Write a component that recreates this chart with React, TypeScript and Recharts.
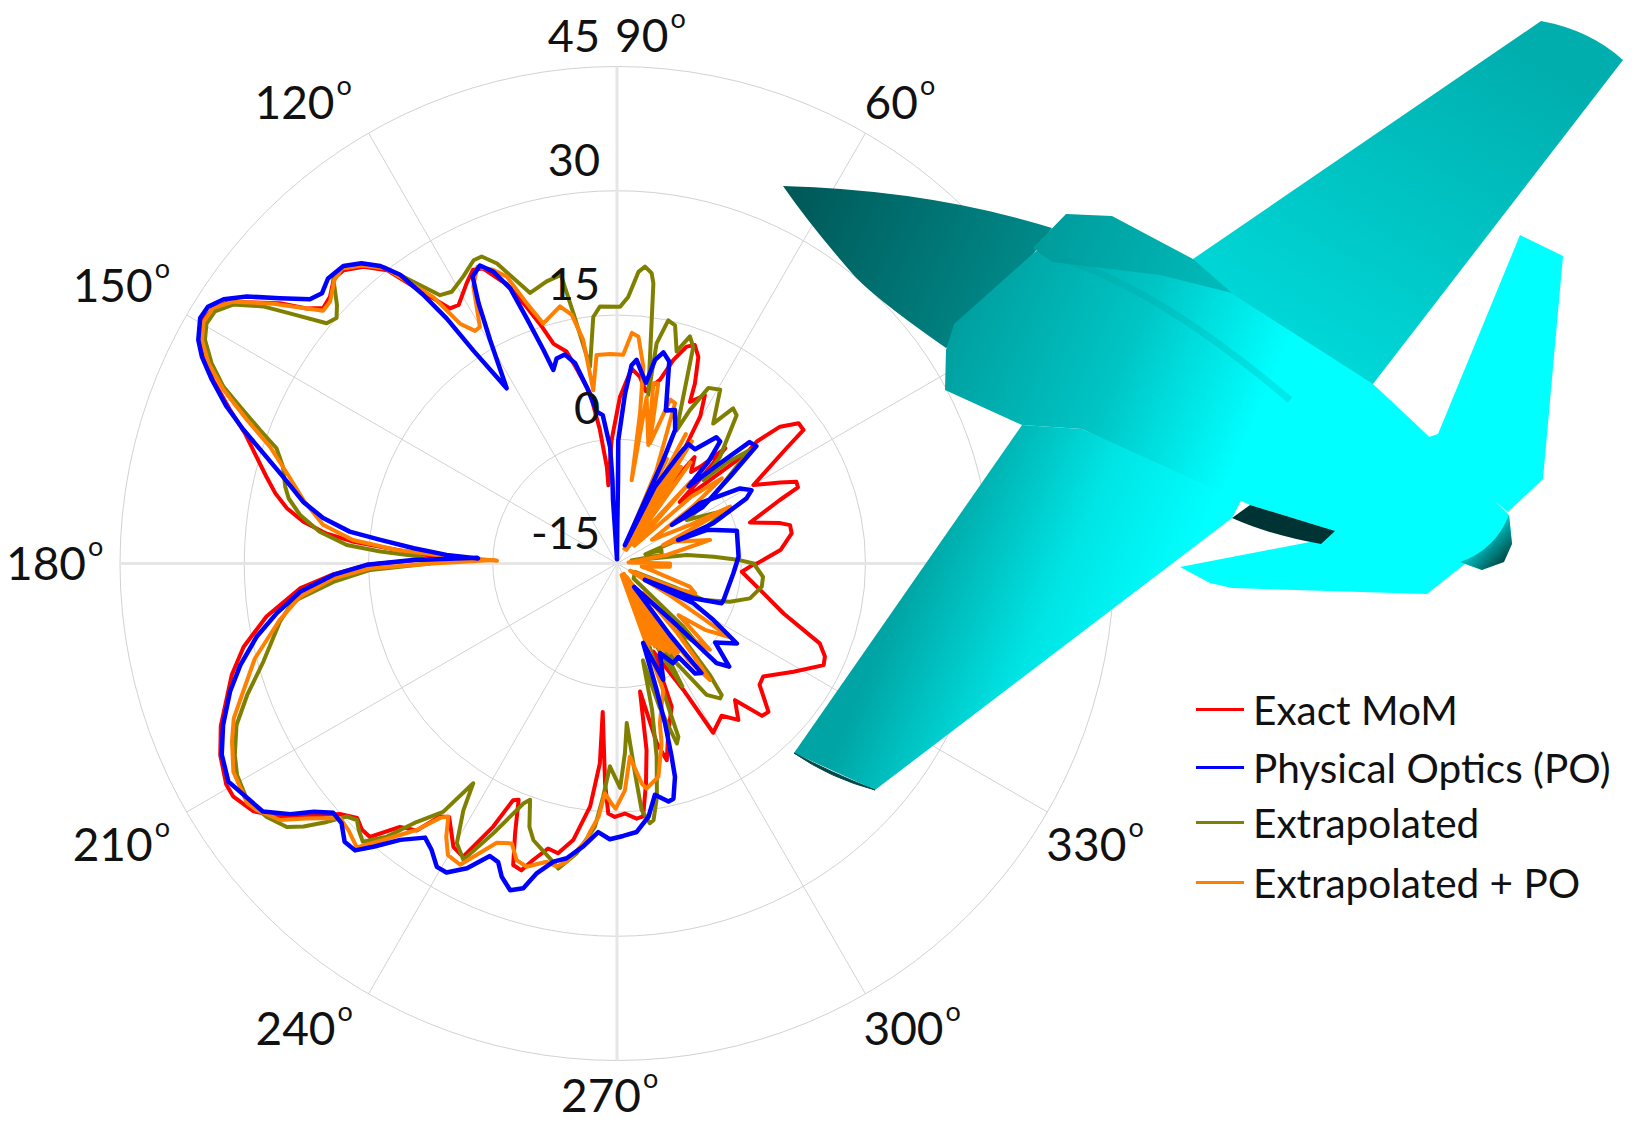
import { RadarChart, Radar, PolarGrid, PolarAngleAxis, PolarRadiusAxis, Legend, Polygon } from "recharts";

const FONT = "Lato, 'Open Sans', sans-serif";

const momAngles = [178.5,177,175.3,174.1,172.4,170.5,168.4,166.1,163.5,160.7,158.4,155.6,153.5,151.9,149.5,147.9,146.1,142.3,140.6,139,137.1,134.8,133,130.5,128.1,126.3,124.7,123.2,121.5,118.2,116.1,114.4,112.4,111.5,109.4,107.6,106.1,103.4,101.7,99,97.3,96,96.3,92.5,89,85.7,83,80.5,76.8,74.5,72.2,70.4,68.5,66.6,65.7,62.4,60.5,58.5,59,55.5,53.9,51,49,46.8,45.5,44.4,41.5,40.4,41.1,40,37.7,35.6,34.2,29.9,26.4,24.5,22.8,21.3,17.1,13.9,12.5,9.8,4.7,0,359.4,356.2,349.5,343.3,338.5,335.9,333.8,328.5,322.3,319.6,315.6,313.6,310.8,307.8,304.5,299.6,297.7,292.4,290.9,286.8,284.2,282.5,280.2,279,277.5,275.9,274.4,271.8,269.5,268,266.9,264.5,265.1,263.7,261,258.5,256.4,254.2,252.7,251,249.3,247.4,246.3,244.8,242.3,240,236.5,235,233.1,230.5,227.9,226.2,224.4,222.1,217.2,214.3,211.3,209.5,205.8,202.3,196.1,192.6,188.6,184.5,182.2,180.3,179];
const momValues = [4.9,9.7,16.9,20.3,23.2,25.4,27.1,28.6,30.4,32.6,35.2,38.5,40.7,42,43,42.7,41.6,36.4,33.5,32,32.3,33.5,33.4,32.1,30,26.5,23.9,21.8,21.6,23.4,24.5,24.1,22,21.3,17.8,15,12.6,11.3,9,5.8,1.3,-3.3,-5.5,-0.1,5.1,8.6,7.7,6.1,7.8,10.5,12.5,13,11.8,8.7,6.4,7.9,5.4,-1.7,-10.2,-2.9,0.9,-0.8,0.7,4.1,-0.5,-4.4,1.3,5.5,7.4,10.7,12.7,12.7,9.7,4,7,8.8,8.7,6.1,1.8,5.3,6.4,6.4,4.8,1.9,1.4,0.1,2.6,6,11.3,12.5,12.8,10,7.3,7.6,10.6,10.4,6.8,8.9,7.3,8.5,2.2,-3.5,3.5,6.4,9.5,7.2,0.7,7.8,11.8,15.7,15.9,15.2,15.6,15.2,11.6,3,9.2,14.5,18.8,20.7,20.4,22.2,23.8,23.5,19.8,15.9,16.2,20.1,25,24.5,21.7,22.3,25.3,26.2,29.5,29.5,28.9,30.1,35.6,38.1,39.2,39.2,38.2,36.7,33.4,31.2,27.8,23.4,19.3,15.2,9.1];

const poAngles = [177.9,177.1,175.7,174.3,173.2,171.2,168.9,165.4,162.7,160.3,158.1,155.6,153.5,151.9,149.5,147.9,146.1,144.2,141.8,139.3,137.5,135.4,132.6,130.4,128.5,126.9,125.8,124.8,124,122.2,119.6,118,116.7,114.7,113,111.2,110.2,109,108.2,106.4,104,101.8,99.7,97.6,95.5,93.4,93.1,93.6,93,90,89.5,89.3,89.4,87.3,85.8,84.5,82.6,80.9,79.4,77.6,75.5,72.3,69.3,66.5,65.9,66.6,63.7,60.2,59.2,55.7,51.8,49.8,48.1,47.1,44.2,42.5,40.1,37.5,33.4,35.1,36,31.4,28.6,26.7,22.7,21,20.5,15.3,3.2,355.2,341.1,339.2,335.5,329.5,332.5,329.6,326.3,321.2,317.4,315,314.1,306.2,306.5,307.6,305.4,303.3,299.4,295.6,291.7,288.2,287.4,286.7,285.8,285.2,283.5,282.2,279.3,277.1,274.2,271.3,268.5,266,263.2,260.3,258,255.5,253.9,251.9,249.8,248.3,246.5,243.8,241.1,239.3,237.1,235,231.9,229.3,227.6,225.6,223.3,221.3,219.3,217.5,215,209.3,205.8,202.3,198.3,195.1,191.5,188.3,185.1,182.3,180.3,179,177.6];
const poValues = [1.8,5.6,9.6,13.7,17.5,20.9,23.6,26.7,29.7,32.9,35.8,38.7,41,42.3,43.4,43.3,42.2,40.1,36.8,33.9,33.3,34,33.8,32.6,30.9,28.6,25,21,16,10,16,20.6,23.8,24.6,23.3,20.6,16.5,12.3,9.6,10.8,11,9.7,6.6,3.5,3,-0.9,-4.9,-7.3,-12.7,-14.5,-10.2,-4.9,-0.1,5.5,9,9.7,8.2,7.1,10,11.1,10.2,4.4,4.8,2.6,-1.4,-12.6,-4.6,0.3,1.8,1.7,4.4,4.3,1.5,-2.3,2.4,6.7,7,2.2,-2.6,-6.9,-2.6,2.4,3.5,2.5,-2.4,-7.1,-3.4,0,-0.3,-0.9,-1.4,-1.5,-4.9,-11.1,-4.6,-1.5,2.4,0.2,3.4,2,-4.7,-11.5,-4.3,1.7,1.3,-1.5,-1.2,-3,0.1,-4.9,1,5.2,9.2,11.7,14.2,14.4,13.3,15.8,17.5,17.9,18.3,17.5,19.4,21.1,21.8,23.6,25.8,26.5,25.3,23.8,23.5,26,27.6,27.6,26.2,25.4,27.4,30.1,31.9,32,30.7,30.6,32.3,34.7,37.2,38.8,38,36.4,34.2,32.1,29.4,26.5,23.4,19.3,15.2,9.6,1.9];

const extraAngles = [178,177.1,176.1,173.9,171.3,168.8,167,163.8,161.3,159.5,157.4,155.8,153.7,151.5,149.7,147.9,146,144,142.4,140.4,138.8,137.3,135,133,130.5,128.1,127.2,125.3,123.4,121.3,118.2,115.3,113.8,111.8,107.8,104,101,99.9,97.8,95.5,93.8,89.3,87.6,85.8,84.6,83.2,82.6,79.5,79.8,78.1,76.3,74.3,72.2,70.6,65.9,64.6,62.5,59.3,55.5,53.2,51.1,46,44,42.5,40.5,34.3,32,26,22.3,21,18,16.8,10.8,12,7,4,1.6,0,354.8,350.9,345.3,341.3,337.1,337.6,335,317.8,316.4,315,312,309.8,308.5,307.4,304.3,300.9,299,298,296,293.5,291,289.7,289.5,288.4,286.5,285,283.5,281.6,279.7,278.1,277.2,275.7,274.9,273.5,272.4,270.8,268,266.6,265.2,262.1,259.1,257.6,253.2,251.6,249.8,248.7,245.4,242.6,240.2,238.1,236.8,235,232.2,229.9,227.6,225.9,224.6,223.1,221.7,220,218.6,215.9,212.6,209.1,206.6,203,199.6,195.5,189.8,186.7,183.7,181.5,180];
const extraValues = [8.8,13.6,17.7,21.1,23.7,25.4,26.1,27,28.4,31,34.3,37.1,39.6,41.6,42.4,42.3,40.9,37.8,34.3,30.5,30,31,33.4,33.7,32.4,30.4,29,26.2,23.8,23.4,24.3,25.5,25.5,24,19.3,20.1,20.5,15.7,9,14.9,16.1,16,17.2,20.3,21,20.3,19.1,5.7,12,15,14.6,11.6,13.8,12.7,2.6,5.5,8.9,9.4,5.5,8.4,8,2.9,-0.5,3.1,6.1,-1.4,-5.1,-0.3,-3.3,-7.8,-11.4,-9.4,-9.5,-13.2,-6.5,-3.3,-0.2,1.5,2.7,2.7,1.6,-0.6,-3.7,-7.6,-12.6,-12.3,-3.9,-1.1,-4.1,2.5,5.3,5.5,4.2,-1,-4.7,1.8,-2.9,-8.4,-2.9,3.4,7.2,7.9,3.1,-2.9,3.1,8.8,13.6,16.3,16.6,14.9,10.4,4.3,7.9,12.1,9.5,13.2,16.9,20.3,22.5,21.7,19.9,18.5,15.4,16.1,20.8,25.3,23.9,20.1,16.7,21.6,24.5,28.1,30.5,29.8,29.1,29.7,31.9,34.4,36,37.2,38,37.5,36.6,34.9,32.4,29.3,26.3,24.4,19.3,14.8,7.6];

const extraPoAngles = [178.7,177.3,176.5,174.9,172.5,168.6,164.7,161.4,158.8,156.2,153.9,151.7,149.7,147.7,145.7,142.9,140.6,139.3,137.6,135,133,130.5,128.1,126.3,124.6,123.2,121.4,120.1,117.4,115.2,112.9,111,109.1,107.1,102.5,100.3,98.6,97.8,95.6,91.9,88.3,86.3,84.6,82.4,81.3,80,79.9,75.2,78.6,77.1,74.7,72,70.1,67,65.5,64.5,63.5,62,61,60,59,58.5,57.5,56.5,55.5,54,51.5,48,45.5,42,39.1,37,34.1,27.8,26.7,25,21.8,21.7,14.2,9.7,5,0,356.5,353,349,342.4,339.1,337,331,329,327.5,326.7,323,320,318.5,317.1,314,312,311,309.5,308.6,306.5,305.5,304.5,303.5,302.5,301.5,300.5,299.5,298.5,297.5,296.5,295.5,294.5,293.5,292.5,291.5,290,285,283.9,281,277.5,276.4,273.8,272,269.7,268.7,267,265.8,264.3,263.7,260.4,258.8,256.7,253.4,251.3,249.4,246.7,242.5,239.9,238,236.3,235.2,233.1,229.8,227.5,224.8,222.6,219.4,217.3,214.4,212.9,208.5,204.8,202,198.9,194.7,189.5,186,183,181.1,180,178.4];
const extraPoValues = [-0.5,6.4,11.6,17,20.8,23.6,26.3,29.2,32.9,36.9,39.9,41.9,42.8,42.7,41.1,37,33.5,31.8,31.9,33.3,33.7,32.3,30.3,26.9,24.1,19.6,17.9,18,22.7,24.6,23.5,22.1,18.2,15.3,16.8,15.5,12.3,6.1,10.3,10.3,10.2,12.9,12.5,9,3.4,-4.8,5.4,-0.2,7.2,7.3,0,5.8,5.6,-2.9,-12,-1,-13,2.7,-13,1,-13,2.3,-13,-1,-13,0.1,-12,-1.7,-12,-2.9,1.3,-3.5,-9.9,-5,0.3,-4.7,-9,-7.9,-3.4,-8.9,-13.6,-8.6,-8.6,-12,-10.8,-5.8,-4.9,-7.2,-13.2,-7.8,-2.9,1.1,-1.7,-5.3,-2.9,0.3,-2.9,-10.2,-4.1,0.1,3,-0.5,-13,-2,-13.5,-1.5,-13,-2.5,-13.5,-3,-13,-3.5,-13.5,-4,-13,-4.5,-13.5,1.3,5,7.4,11.2,12.4,11.7,8.4,12.4,14.6,14,12.8,15.7,17.5,18.6,21.5,22.3,22,23.2,22.8,21.1,21.7,26,25.7,23.9,21.7,22.4,25.2,28.7,31.5,30.7,30.4,33.5,36.1,37.7,38.2,37.7,36.2,34.9,32.7,30.2,26.3,23.5,19.3,14.8,7.2,-0.1];

const radiusTicks = [-15, 0, 15, 30, 45];
const angleTicks = [0, 30, 60, 90, 120, 150, 180, 210, 240, 270, 300, 330];
const hiddenAngleLabels = [0, 30]; // sit under the aircraft in the original

const legendNames = ["Exact MoM", "Physical Optics (PO)", "Extrapolated", "Extrapolated + PO"];
const legendColors = ["#ff0000", "#0000ff", "#808000", "#ff8000"];

function rows(key: string, angles: number[], values: number[]) {
  return angles.map((angle, i) => ({ angle, [key]: values[i] }));
}

const tableData = [
  ...rows("mom", momAngles, momValues),
  ...rows("extra", extraAngles, extraValues),
  ...rows("extraPo", extraPoAngles, extraPoValues),
  ...rows("po", poAngles, poValues),
];

// label start offset from the tick point, per angle
const labelShift: Record<number, [number, number]> = {
  60: [-5, -7],
  90: [-2, -7],
  120: [-110, -7],
  150: [-107, -9],
  180: [-106, 16],
  210: [-107, 45],
  240: [-109, 44],
  270: [-56, 43],
  300: [-6, 44],
  330: [-8, 45],
};

function AngleTick(props: any) {
  const { x, y, payload } = props;
  const v = Number(payload.value);
  if (hiddenAngleLabels.includes(v) || !labelShift[v]) return null;
  const [dx, dy] = labelShift[v];
  return (
    <text x={x + dx} y={y + dy} fontFamily={FONT} fontSize={46} fill="#111">
      {v}
      <tspan dx={2} dy={-24} fontSize={27}>o</tspan>
    </text>
  );
}

function RadiusTick(props: any) {
  const { x, y, payload } = props;
  return (
    <text x={x - 17} y={y - 15} textAnchor="end" fontFamily={FONT} fontSize={45} fill="#111">
      {payload.value}
    </text>
  );
}

// rows of the other series come through without a value, leave them out of the outline
function Outline(props: any) {
  const points = props.points.filter((p: any) => p.value != null);
  return <Polygon points={points} fill="none" stroke={props.stroke} strokeWidth={props.strokeWidth} strokeLinejoin="round" />;
}

function LegendBox() {
  const tops = [0, 58, 113, 173];
  return (
    <div style={{ position: "relative", width: 430, height: 220, fontFamily: FONT, fontSize: 40.5, color: "#111" }}>
      {legendNames.map((name, i) => (
        <div key={name} style={{ position: "absolute", top: tops[i], left: 0, display: "flex", alignItems: "center", height: 44, whiteSpace: "nowrap" }}>
          <span style={{ display: "inline-block", width: 48, height: 3, background: legendColors[i], marginRight: 9 }} />
          {name}
        </div>
      ))}
    </div>
  );
}

function Aircraft() {
  return (
    <svg width={1633} height={1122} style={{ position: "absolute", left: 0, top: 0, pointerEvents: "none" }}>
      <defs>
        <linearGradient id="noseFill" gradientUnits="userSpaceOnUse" x1="800" y1="200" x2="1020" y2="300">
          <stop offset="0" stopColor="#005a5a" />
          <stop offset="1" stopColor="#008a8a" />
        </linearGradient>
        <linearGradient id="upperWing" gradientUnits="userSpaceOnUse" x1="1500" y1="40" x2="1300" y2="390">
          <stop offset="0" stopColor="#00aeae" />
          <stop offset="1" stopColor="#00dcdc" />
        </linearGradient>
        <linearGradient id="lowerWing" gradientUnits="userSpaceOnUse" x1="900" y1="600" x2="1130" y2="700">
          <stop offset="0" stopColor="#00a4a4" />
          <stop offset="0.55" stopColor="#00e4e4" />
          <stop offset="1" stopColor="#00ffff" />
        </linearGradient>
        <linearGradient id="bodyFill" gradientUnits="userSpaceOnUse" x1="950" y1="300" x2="1250" y2="430">
          <stop offset="0" stopColor="#009c9c" />
          <stop offset="0.55" stopColor="#00c4c4" />
          <stop offset="1" stopColor="#00ffff" />
        </linearGradient>
        <linearGradient id="canopyFill" gradientUnits="userSpaceOnUse" x1="1040" y1="210" x2="1230" y2="300">
          <stop offset="0" stopColor="#009a9a" />
          <stop offset="1" stopColor="#00bcbc" />
        </linearGradient>
        <linearGradient id="tailCone" gradientUnits="userSpaceOnUse" x1="1480" y1="530" x2="1510" y2="560">
          <stop offset="0" stopColor="#00e8e8" />
          <stop offset="1" stopColor="#003c3c" />
        </linearGradient>
      </defs>
      <path d="M1193,259 L1541,21 Q1590,30 1623,60 L1373,384 L1180,400 Z" fill="url(#upperWing)" />
      <path d="M1520,235 L1563,256 L1543,479 L1508,512 L1420,440 L1438,434 Z" fill="#00ffff" />
      <path d="M783,186 Q930,190 1052,228 L1000,300 L946,348 Q870,295 851,272 Q810,225 783,186 Z" fill="url(#noseFill)" />
      <path d="M1180,567 L1315,541 L1330,520 L1470,560 L1427,594 L1232,588 L1210,583 Z" fill="#00ffff" />
      <path d="M1022,425 L1082,429 L1243,497 L1232,518 L875,790 L794,753 Z" fill="url(#lowerWing)" />
      <path d="M794,753 Q830,778 875,790 Q830,772 794,753 Z" fill="#004848" stroke="#004848" />
      <path d="M946,350 L954,324 L1036,251 L1193,259 L1231,293 L1373,384 Q1460,465 1509,515 L1512,544 L1482,570 L1460,562 L1335,531 L1250,505 L1082,429 L1022,425 L945,390 Z" fill="url(#bodyFill)" />
      <path d="M1250,505 L1335,531 L1321,544 Q1270,535 1232,518 Z" fill="#003333" />
      <path d="M1066,214 L1112,216 L1193,259 L1232,293 L1160,275 L1052,262 L1033,248 Z" fill="url(#canopyFill)" />
      <path d="M1060,258 Q1160,290 1290,400" fill="none" stroke="#009a9a" strokeOpacity={0.22} strokeWidth={7} />
      <path d="M1509,515 L1512,544 L1504,562 L1482,570 L1460,562 Q1495,550 1509,515 Z" fill="url(#tailCone)" />
    </svg>
  );
}

export default function App() {
  return (
    <div style={{ position: "absolute", left: 0, top: 0, width: 1633, height: 1122, background: "#fff" }}>
      <RadarChart
        width={1633}
        height={1122}
        data={tableData}
        cx={617}
        cy={563.5}
        outerRadius={497}
        innerRadius={0}
        startAngle={0}
        endAngle={360}
        margin={{ top: 0, right: 0, bottom: 0, left: 0 }}
      >
        <PolarGrid gridType="circle" polarAngles={angleTicks} stroke="#d2d2d2" strokeWidth={1} />
        <PolarGrid gridType="circle" polarAngles={[0, 90, 180, 270]} polarRadius={[]} stroke="#e6e6e6" strokeWidth={3} />
        <PolarAngleAxis
          dataKey="angle"
          type="number"
          domain={[0, 360]}
          ticks={angleTicks as any}
          tick={AngleTick}
          axisLine={false}
          tickLine={false}
        />
        <PolarRadiusAxis
          type="number"
          angle={90}
          domain={[-15, 45]}
          ticks={radiusTicks as any}
          tickCount={5}
          tick={RadiusTick}
          axisLine={false}
          tickLine={false}
        />
        <Radar dataKey="mom" name={legendNames[0]} stroke="#ff0000" strokeWidth={4} fill="none" shape={Outline} connectNulls isAnimationActive={false} />
        <Radar dataKey="extra" name={legendNames[2]} stroke="#808000" strokeWidth={4} fill="none" shape={Outline} connectNulls isAnimationActive={false} />
        <Radar dataKey="extraPo" name={legendNames[3]} stroke="#ff8000" strokeWidth={4} fill="none" shape={Outline} connectNulls isAnimationActive={false} />
        <Radar dataKey="po" name={legendNames[1]} stroke="#0000ff" strokeWidth={4.5} fill="none" shape={Outline} connectNulls isAnimationActive={false} />
        <Legend content={LegendBox} wrapperStyle={{ position: "absolute", left: 1196, top: 687, width: 430, bottom: "auto" }} />
      </RadarChart>
      <Aircraft />
    </div>
  );
}
